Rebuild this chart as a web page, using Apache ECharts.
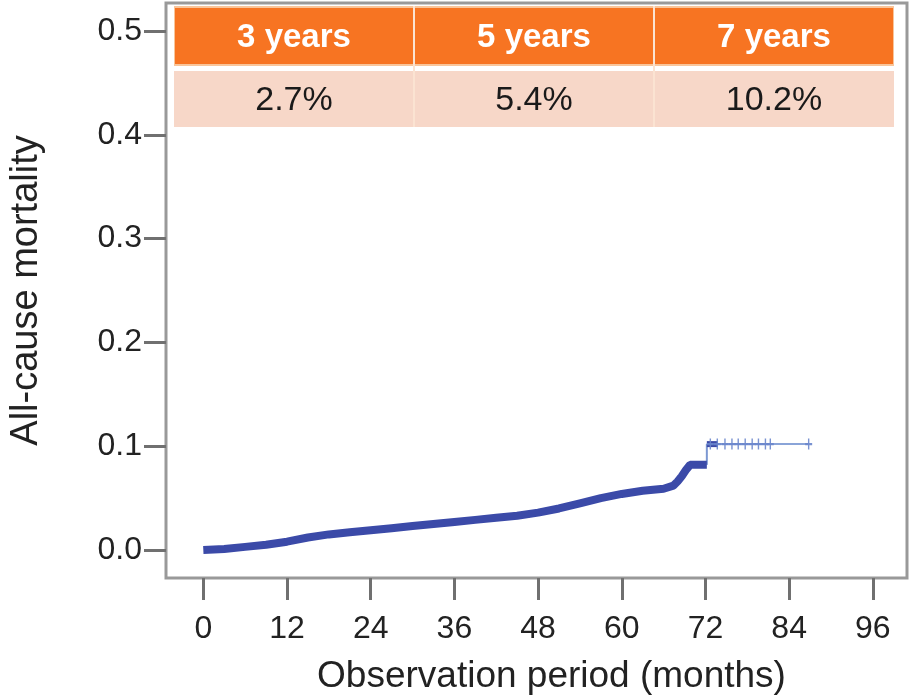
<!DOCTYPE html>
<html><head><meta charset="utf-8">
<script src="https://cdn.jsdelivr.net/npm/echarts@6/dist/echarts.min.js"></script>
<style>html,body{margin:0;padding:0;background:#fff}#c{width:910px;height:695px}</style>
</head><body><div id="c"></div>
<script>
// ---- data ----
const xTicks = [0, 12, 24, 36, 48, 60, 72, 84, 96];
const yTicks = [0, 0.1, 0.2, 0.3, 0.4, 0.5];
const curveMonths = [0, 3, 6, 9, 12, 15, 18, 21, 24, 27, 30, 33, 36, 39, 42, 45, 48, 51, 54, 57, 60, 63, 66, 67.4, 68, 68.6, 69.2, 69.8, 72.2];
const curveValues = [0, 0.001, 0.003, 0.005, 0.008, 0.012, 0.015, 0.017, 0.019, 0.021, 0.023, 0.025, 0.027, 0.029, 0.031, 0.033, 0.036, 0.040, 0.045, 0.050, 0.054, 0.057, 0.059, 0.062, 0.066, 0.071, 0.077, 0.082, 0.082];
const stepMonths = [72.2, 72.2];
const stepValues = [0.082, 0.102];
const plateauMonths = [72.2, 73.8];
const plateauValues = [0.102, 0.102];
const tailMonths = [72.2, 86.8];
const tailValues = [0.102, 0.102];
const censorMonths = [72.7, 73.7, 74.8, 75.8, 76.7, 77.7, 78.7, 79.6, 80.6, 81.3, 86.8];
const censorValues = [0.102, 0.102, 0.102, 0.102, 0.102, 0.102, 0.102, 0.102, 0.102, 0.102, 0.102];
const tableHeaders = ['3 years', '5 years', '7 years'];
const tableValues = ['2.7%', '5.4%', '10.2%'];

const FONT = "'Liberation Sans', Arial, sans-serif";
const zip = (a, b) => a.map((v, i) => [v, b[i]]);

// table graphic (layout only)
const tbl = { x: 174, w: 720, hy: 8, hh: 56, vy: 71, vh: 56 };
const colW = tbl.w / tableHeaders.length;
const graphics = [];
graphics.push({ type: 'rect', shape: { x: tbl.x, y: tbl.hy - 2, width: tbl.w, height: tbl.hh + 4 }, style: { fill: '#F9C59A' }, z: 10 });
graphics.push({ type: 'rect', shape: { x: tbl.x + 1, y: tbl.hy, width: tbl.w - 2, height: tbl.hh }, style: { fill: '#F77422' }, z: 11 });
graphics.push({ type: 'rect', shape: { x: tbl.x, y: tbl.vy, width: tbl.w, height: tbl.vh }, style: { fill: '#F7D7C8' }, z: 10 });
tableHeaders.forEach((h, i) => {
  const cx = tbl.x + colW * (i + 0.5);
  graphics.push({ type: 'text', x: cx, y: tbl.hy + tbl.hh / 2 + 2, style: { text: h, fill: '#ffffff', font: 'bold 33px ' + FONT, textAlign: 'center', textVerticalAlign: 'middle' }, z: 12 });
  graphics.push({ type: 'text', x: cx, y: tbl.vy + tbl.vh / 2 + 2, style: { text: tableValues[i], fill: '#1a1a1a', font: '34px ' + FONT, textAlign: 'center', textVerticalAlign: 'middle' }, z: 12 });
  if (i > 0) {
    const lx = tbl.x + colW * i;
    graphics.push({ type: 'line', shape: { x1: lx, y1: tbl.hy - 2, x2: lx, y2: tbl.vy + tbl.vh }, style: { stroke: '#FBE3D2', lineWidth: 2 }, z: 13 });
  }
});

const chart = echarts.init(document.getElementById('c'), null, { renderer: 'canvas' });
chart.setOption({
  animation: false,
  backgroundColor: '#ffffff',
  textStyle: { fontFamily: FONT },
  grid: { left: 166, right: 3, top: 3, bottom: 117, containLabel: false, outerBoundsMode: 'none', show: true, borderColor: '#999999', borderWidth: 3, backgroundColor: 'transparent' },
  xAxis: {
    type: 'value', min: -5.35, max: 100.9,
    name: 'Observation period (months)', nameLocation: 'middle', nameGap: 80,
    nameTextStyle: { fontSize: 37, color: '#222', fontFamily: FONT, padding: [0, 0, 0, 30] },
    axisLine: { show: false, onZero: false },
    axisTick: { show: true, inside: false, length: 22, lineStyle: { color: '#707070', width: 3 }, customValues: xTicks },
    axisLabel: { margin: 35, fontSize: 32, color: '#222', fontFamily: FONT, customValues: xTicks },
    splitLine: { show: false }
  },
  yAxis: {
    type: 'value', min: -0.027, max: 0.527,
    name: 'All-cause mortality', nameLocation: 'middle', nameGap: 120,
    nameTextStyle: { fontSize: 38, color: '#222', fontFamily: FONT },
    axisLine: { show: false, onZero: false },
    axisTick: { show: true, inside: false, length: 22, lineStyle: { color: '#707070', width: 3 }, customValues: yTicks },
    axisLabel: { margin: 24, fontSize: 32, color: '#222', fontFamily: FONT, customValues: yTicks, formatter: v => v.toFixed(1) },
    splitLine: { show: false }
  },
  series: [
    { type: 'line', data: zip(curveMonths, curveValues), showSymbol: false, lineStyle: { color: '#3B4AA8', width: 8 }, z: 3 },
    { type: 'line', data: zip(stepMonths, stepValues), showSymbol: false, lineStyle: { color: '#7C98D2', width: 2 }, z: 2 },
    { type: 'line', data: zip(tailMonths, tailValues), showSymbol: false, lineStyle: { color: '#8AA4D8', width: 2 }, z: 2 },
    { type: 'line', data: zip(plateauMonths, plateauValues), showSymbol: false, lineStyle: { color: '#3B4AA8', width: 6 }, z: 3 },
    { type: 'scatter', data: zip(censorMonths, censorValues), symbol: 'path://M4,0H6V4H10V6H6V10H4V6H0V4H4Z', symbolSize: [7, 11], itemStyle: { color: '#6A86CC', opacity: 0.9 }, z: 4 }
  ],
  graphic: graphics
});
</script>
</body></html>
